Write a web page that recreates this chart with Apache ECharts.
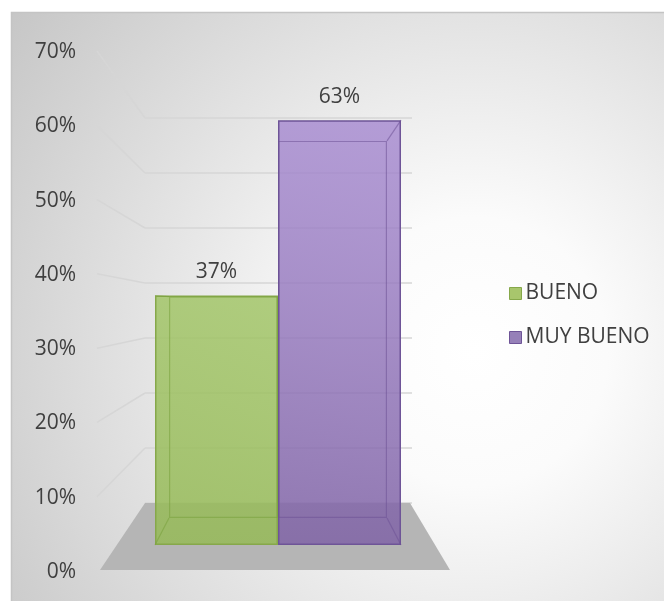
<!DOCTYPE html>
<html>
<head>
<meta charset="utf-8">
<script src="https://cdn.jsdelivr.net/npm/echarts@6/dist/echarts.min.js"></script>
<style>
  html, body { margin: 0; padding: 0; background: #ffffff; }
  #chart { width: 664px; height: 601px; }
</style>
</head>
<body>
<div id="chart"></div>
<script>
// Rating shares (percent)
const seriesNames = ['BUENO', 'MUY BUENO'];
const seriesValues = [37, 63];
const tickValues = [0, 10, 20, 30, 40, 50, 60, 70];

const FONT = '"Open Sans", "Noto Sans", sans-serif';
const TEXT = '#404040';
const yMin = tickValues[0];
const yMax = tickValues[tickValues.length - 1];
const yStep = tickValues[1] - tickValues[0];

const frontFill = [
  { type: 'linear', x: 0, y: 0, x2: 0, y2: 1, colorStops: [
    { offset: 0, color: 'rgba(160,196,100,0.82)' },
    { offset: 1, color: 'rgba(150,186,88,0.86)' } ] },
  { type: 'linear', x: 0, y: 0, x2: 0, y2: 1, colorStops: [
    { offset: 0, color: 'rgba(165,136,208,0.80)' },
    { offset: 1, color: 'rgba(128,100,166,0.86)' } ] }
];
const frontBorder = ['#86a84a', '#6e5497'];
const backEdge = ['rgba(120,160,60,0.55)', 'rgba(110,82,150,0.55)'];
const legendFill = ['#a8c66c', '#9680b8'];

const chart = echarts.init(document.getElementById('chart'), null, { renderer: 'canvas' });

function valueAxis(gridIndex, showLabels, showSplit) {
  return {
    type: 'value', gridIndex, min: yMin, max: yMax, interval: yStep,
    axisLine: { show: false }, axisTick: { show: false },
    axisLabel: {
      show: showLabels, formatter: '{value}%', margin: 21,
      fontFamily: FONT, fontSize: 21, color: TEXT
    },
    splitLine: { show: showSplit, lineStyle: { color: '#d6d6d6', width: 1.5 } }
  };
}
function hiddenCategory(gridIndex) {
  return { type: 'category', gridIndex, data: [''], show: false };
}

const option = {
  animation: false,
  grid: [
    { left: 97, top: 52, width: 1, height: 520 },    // side-wall label scale
    { left: 145, top: 118, width: 267, height: 385 }, // back wall
    { left: 169, top: 99, width: 218, height: 419 },  // rear faces of the boxes
    { left: 155, top: 73, width: 246, height: 472 }   // front faces of the boxes
  ],
  xAxis: [hiddenCategory(0), hiddenCategory(1), hiddenCategory(2), hiddenCategory(3)],
  yAxis: [
    valueAxis(0, true, false),
    valueAxis(1, false, true),
    Object.assign(valueAxis(2, false, false), { show: false }),
    Object.assign(valueAxis(3, false, false), { show: false })
  ],
  legend: {
    orient: 'vertical', left: 504, top: 278,
    itemWidth: 12, itemHeight: 12, itemGap: 23,
    icon: 'rect',
    textStyle: { fontFamily: FONT, fontSize: 21, color: TEXT, lineHeight: 21, padding: [0, 0, 0, -1] },
    data: seriesNames.map((n, i) => ({
      name: n,
      itemStyle: { color: legendFill[i], borderColor: frontBorder[i], borderWidth: 1 }
    }))
  },
  series: [
    // rear outlines, seen through the translucent fronts
    ...seriesNames.map((n, i) => ({
      name: n + ' ', type: 'bar', xAxisIndex: 2, yAxisIndex: 2,
      data: [seriesValues[i]], barWidth: 109, barGap: '0%', z: 4,
      itemStyle: { color: 'rgba(0,0,0,0)', borderColor: backEdge[i], borderWidth: 1.2 },
      silent: true
    })),
    // front faces
    ...seriesNames.map((n, i) => ({
      name: n, type: 'bar', xAxisIndex: 3, yAxisIndex: 3,
      data: [seriesValues[i]], barWidth: 123, barGap: '0%', z: 3,
      itemStyle: { color: frontFill[i], borderColor: frontBorder[i], borderWidth: 1.5 },
      label: {
        show: true, position: 'top', distance: 13, formatter: '{c}%',
        fontFamily: FONT, fontSize: 21, color: TEXT
      }
    }))
  ]
};
chart.setOption(option);

// Room furniture: background panel, floor, side-wall grid lines, box depth edges
const yLab = v => chart.convertToPixel({ yAxisIndex: 0 }, v);
const yBack = v => chart.convertToPixel({ yAxisIndex: 1 }, v);
const model = chart.getModel();
function boxOf(seriesIndex) {
  const l = model.getSeriesByIndex(seriesIndex).getData().getItemLayout(0);
  return {
    left: Math.min(l.x, l.x + l.width), right: Math.max(l.x, l.x + l.width),
    top: Math.min(l.y, l.y + l.height), bottom: Math.max(l.y, l.y + l.height)
  };
}

const graphics = [];
graphics.push({
  type: 'rect', z: -100, silent: true,
  shape: { x: 11.5, y: 12.5, width: 700, height: 640 },
  style: {
    fill: { type: 'radial', x: 0.66, y: 0.53, r: 0.95, colorStops: [
      { offset: 0, color: '#ffffff' },
      { offset: 0.22, color: '#fbfbfb' },
      { offset: 1, color: '#c2c2c2' } ] },
    stroke: '#c4c4c4', lineWidth: 1.5
  }
});
const floorBack = yBack(0);
const floorFront = yLab(0) - 2;
graphics.push({
  type: 'polygon', z: 1, silent: true,
  shape: { points: [[145, floorBack], [410, floorBack], [450, floorFront], [100, floorFront]] },
  style: { fill: '#b5b5b5' }
});
tickValues.slice(1).forEach(v => {
  graphics.push({
    type: 'line', z: 0, silent: true,
    shape: { x1: 97, y1: yLab(v) - 1, x2: 145, y2: yBack(v) },
    style: { stroke: '#d6d6d6', lineWidth: 1.5 }
  });
});
// connect each front corner to its rear corner on the outer side of each box
seriesNames.forEach((n, i) => {
  const back = boxOf(i), front = boxOf(i + 2);
  const side = i === 0 ? 'left' : 'right';
  ['top', 'bottom'].forEach(a => {
    graphics.push({
      type: 'line', z: 5, silent: true,
      shape: { x1: front[side], y1: front[a], x2: back[side], y2: back[a] },
      style: { stroke: backEdge[i], lineWidth: 1.2 }
    });
  });
});
chart.setOption({ graphic: graphics });
</script>
</body>
</html>
